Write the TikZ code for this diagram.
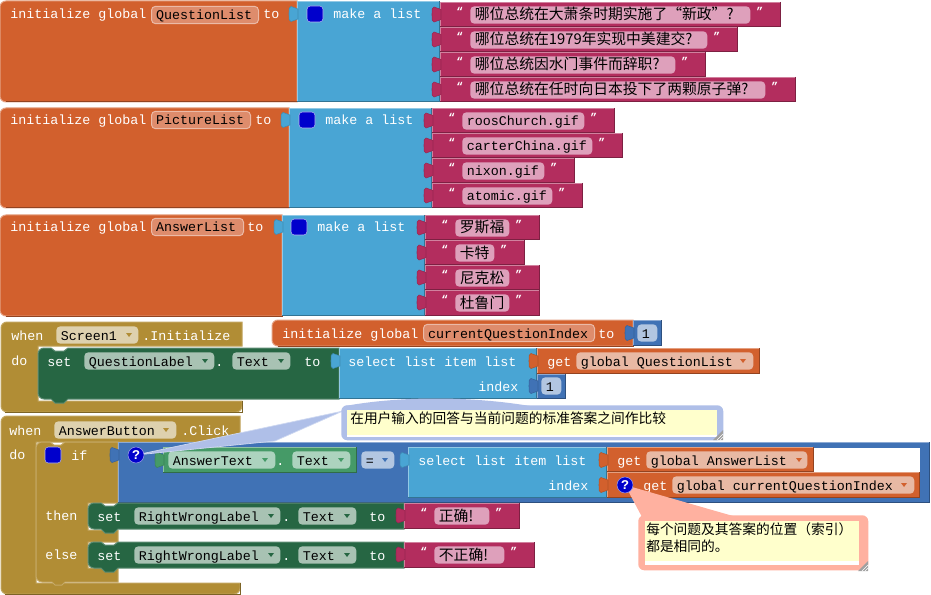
\documentclass[tikz,border=0pt]{standalone}
\usepackage{fontspec}
\setmainfont{Liberation Mono}
\newfontfamily\cjk{Noto Sans CJK SC}
\newcommand{\blockfont}{\fontsize{10}{12}\selectfont}
\newcommand{\cjkstr}{\cjk\fontsize{11.1}{13}\selectfont}
\newcommand{\cjknote}{\cjk\fontsize{10.3}{12.75}\selectfont}
\definecolor{OrangeBlk}{RGB}{210, 96, 45}
\definecolor{OrangeName}{RGB}{222, 140, 108}
\definecolor{OrangeField}{RGB}{232, 185, 164}
\definecolor{ListBlue}{RGB}{73, 165, 212}
\definecolor{PinkBlk}{RGB}{179, 45, 94}
\definecolor{PinkField}{RGB}{222, 160, 187}
\definecolor{GoldBlk}{RGB}{177, 141, 53}
\definecolor{GoldField}{RGB}{222, 209, 174}
\definecolor{GreenDark}{RGB}{38, 102, 67}
\definecolor{GreenField}{RGB}{168, 194, 179}
\definecolor{GreenMid}{RGB}{69, 154, 103}
\definecolor{GreenPale}{RGB}{172, 211, 190}
\definecolor{MathBlue}{RGB}{64, 114, 181}
\definecolor{MathField}{RGB}{178, 198, 225}
\definecolor{IconBlue}{RGB}{0, 0, 204}
\definecolor{NoteBlue}{RGB}{175, 191, 232}
\definecolor{NoteRed}{RGB}{255, 177, 160}
\definecolor{NoteYellow}{RGB}{255, 255, 204}
\definecolor{HandleGray}{RGB}{160, 160, 160}
\tikzset{
    lbl/.style={anchor=west, inner sep=0pt, text=white, font=\blockfont, text height=7.5pt, text depth=0pt},
    fieldbox/.style 2 args={anchor=west, fill=#1, rounded corners=3pt, inner xsep=3.5pt, inner ysep=0pt, align=left,
        minimum height=13pt, text width=(#2)*0.75pt-7pt, text=black, font=\blockfont, text height=7.5pt, text depth=0pt,
        execute at begin node={\spaceskip=6pt\relax}},
    namebox/.style 2 args={fieldbox={#1}{#2}, draw=#1!60!white, line width=0.75pt},
    mutbox/.style={fill=IconBlue, draw=white!70!IconBlue, line width=0.4pt, rounded corners=2.5pt, minimum size=12pt, inner sep=0pt},
    qicon/.style={circle, fill=IconBlue, draw=white!60!IconBlue, line width=0.4pt, minimum size=12pt, inner sep=0pt,
        text=white, font=\blockfont\bfseries},
    notebox/.style={anchor=north west, fill=#1, rounded corners=4.5pt, inner sep=0pt},
    noteinner/.style={anchor=north west, fill=#1, inner sep=0pt},
    notetext/.style={anchor=north west, inner sep=0pt, align=left, font=\cjknote},
    quotemark/.style={anchor=west, inner sep=0pt, text=white, font=\fontsize{8.5}{10}\selectfont\bfseries}
}
% left cap block with rounded corners on the left
\newcommand{\hatblock}[5]{
    \filldraw[fill=#5, draw=#5!60!white, line width=0.75pt, rounded corners=4.5pt] (#3,#2) -- (#1,#2) -- (#1,#4) [sharp corners] -- (#3,#4) -- cycle;
    \draw[#5!70!black, line width=0.75pt] (#1+6,#4) -- (#3,#4) -- (#3,#2);
}
\newcommand{\blockrect}[5]{
    \fill[#5] (#1,#2) rectangle (#3,#4);
    \draw[#5!60!white, line width=0.75pt] (#1+.5,#4) -- (#1+.5,#2+.5) -- (#3,#2+.5);
    \draw[#5!70!black, line width=0.75pt] (#3-.5,#2) -- (#3-.5,#4-.5) -- (#1,#4-.5);
}
% jigsaw tab on the left side of a block
\newcommand{\lefttab}[3]{
    \filldraw[fill=#3, draw=#3!85!black, line width=0.4pt, shift={(#1,#2)}] (1,-5) .. controls (-2,-5) and (-3,-7.5) .. (-6,-7.5)
        .. controls (-8,-7.5) and (-8,-5) .. (-8,0) .. controls (-8,5) and (-8,7.5) .. (-6,7.5)
        .. controls (-3,7.5) and (-2,5) .. (1,5) -- cycle;
}
% statement block with notch on top and bump below
\newcommand{\stackblock}[5]{
    \filldraw[fill=#5, draw=#5!75!white, line width=0.75pt, rounded corners=4.5pt] (#3,#2) [sharp corners] -- (#1+30,#2) -- (#1+26,#2+3) -- (#1+17,#2+3) -- (#1+13,#2)
        [rounded corners=4.5pt] -- (#1,#2) -- (#1,#4) [sharp corners] -- (#1+13,#4) -- (#1+17,#4+4) -- (#1+26,#4+4) -- (#1+30,#4) -- (#3,#4) -- cycle;
}
% event block: head, arm on the left, foot
\newcommand{\whenblock}[6]{
    \filldraw[fill=GoldBlk, draw=GoldBlk!80!white, line width=0.75pt, rounded corners=4.5pt] (#6,#1) -- (1,#1) -- (1,#5) -- (#6,#5) [sharp corners] -- (#6,#4) -- (#3,#4) -- (#3,#2) -- (#6,#2) -- cycle;
    \draw[GoldBlk!70!black, line width=0.75pt] (5,#5) -- (#6,#5) -- (#6,#4);
}
\newcommand{\ddtri}[3]{
    \fill[#3] (#1-3,#2-2) -- (#1+3,#2-2) -- (#1,#2+2) -- cycle;
}
% text block: name, x1, y1, y2, x2, field end, text
\newcommand{\strblock}[7]{
    \blockrect{#2}{#3}{#5}{#4}{PinkBlk}
    \lefttab{#2}{#3+12.5}{PinkBlk}
    \node (#1open) [quotemark] at (#2+16,#3+9) {“};
    \node (#1) [fieldbox={PinkField}{#6-#2-30}] at (#2+30,#3+13) {#7};
    \node (#1close) [quotemark] at (#6+6,#3+9) {”};
}
\newcommand{\handle}[2]{
    \fill[HandleGray] (#1,#2-10) -- (#1,#2) -- (#1-10,#2) -- cycle;
    \draw[white, line width=0.5pt] (#1,#2-6) -- (#1-6,#2);
    \draw[white, line width=0.5pt] (#1,#2-3) -- (#1-3,#2);
}
\newcommand{\cjkopen}{\makebox[1em][r]{“}}
\newcommand{\cjkclose}{\makebox[1em][l]{”}}

\begin{document}
\begin{tikzpicture}[x=0.75pt, y=-0.75pt]
    \useasboundingbox (0,0) rectangle (931,595);

    % QuestionList
    \hatblock{0}{1}{297}{102}{OrangeBlk}
    \node (qlinit) [lbl] at (10,14) {initialize global};
    \node (qlname) [namebox={OrangeName}{107}] at (151,15) {QuestionList};
    \node (qlto) [lbl] at (263,14) {to};
    \blockrect{297}{1}{440}{102}{ListBlue}
    \lefttab{297}{14}{ListBlue}
    \node (qlmut) [mutbox] at (315,14) {};
    \node (qlmake) [lbl] at (333,14) {make a list};
    \strblock{qa}{440}{2}{27}{781}{750}{\cjkstr 哪位总统在大萧条时期实施了\cjkopen 新政\cjkclose ?}
    \strblock{qb}{440}{27}{52}{738}{707}{\cjkstr 哪位总统在1979年实现中美建交?}
    \strblock{qc}{440}{52}{77}{706}{675}{\cjkstr 哪位总统因水门事件而辞职?}
    \strblock{qd}{440}{77}{102}{796}{765}{\cjkstr 哪位总统在任时向日本投下了两颗原子弹?}

    % PictureList
    \hatblock{0}{108}{289}{208}{OrangeBlk}
    \node (plinit) [lbl] at (10,120) {initialize global};
    \node (plname) [namebox={OrangeName}{99}] at (151,120) {PictureList};
    \node (plto) [lbl] at (255,120) {to};
    \blockrect{289}{108}{432}{208}{ListBlue}
    \lefttab{289}{120}{ListBlue}
    \node (plmut) [mutbox] at (307,120) {};
    \node (plmake) [lbl] at (325,120) {make a list};
    \strblock{pa}{432}{108}{133}{615}{584}{roosChurch.gif}
    \strblock{pb}{432}{133}{158}{623}{592}{carterChina.gif}
    \strblock{pc}{432}{158}{183}{575}{544}{nixon.gif}
    \strblock{pd}{432}{183}{208}{583}{552}{atomic.gif}

    % AnswerList
    \hatblock{0}{215}{282}{316}{OrangeBlk}
    \node (alinit) [lbl] at (10,227) {initialize global};
    \node (alname) [namebox={OrangeName}{92}] at (151,227) {AnswerList};
    \node (alto) [lbl] at (247,227) {to};
    \blockrect{282}{215}{425}{316}{ListBlue}
    \lefttab{282}{227}{ListBlue}
    \node (almut) [mutbox] at (299,227) {};
    \node (almake) [lbl] at (317,227) {make a list};
    \strblock{aa}{425}{215}{240}{540}{509}{\cjkstr 罗斯福}
    \strblock{ab}{425}{240}{265}{525}{494}{\cjkstr 卡特}
    \strblock{ac}{425}{265}{290}{540}{509}{\cjkstr 尼克松}
    \strblock{ad}{425}{290}{316}{540}{509}{\cjkstr 杜鲁门}

    % currentQuestionIndex
    \hatblock{272}{320}{633}{346}{OrangeBlk}
    \node (cqinit) [lbl] at (282,333) {initialize global};
    \node (cqname) [namebox={OrangeName}{171}] at (423,333) {currentQuestionIndex};
    \node (cqto) [lbl] at (598,333) {to};
    \blockrect{633}{320}{662}{346}{MathBlue}
    \lefttab{633}{333}{MathBlue}
    \node (cqval) [fieldbox={MathField}{20}] at (637,333) {1};

    % Screen1.Initialize
    \whenblock{322}{346}{38}{401}{412}{242}
    \node (swhen) [lbl] at (11,335) {when};
    \node (sname) [fieldbox={GoldField}{82}] at (56,335) {Screen1};
    \ddtri{129}{335}{GoldBlk}
    \node (sinit) [lbl] at (142,335) {.Initialize};
    \node (sdo) [lbl] at (11,360) {do};
    \stackblock{38}{348}{339}{399}{GreenDark}
    \node (sset) [lbl] at (47,361) {set};
    \node (slabel) [fieldbox={GreenField}{130}] at (84,361) {QuestionLabel};
    \ddtri{205}{361}{GreenDark}
    \node (sdot) [lbl] at (215,361) {.};
    \node (stext) [fieldbox={GreenField}{58}] at (232,361) {Text};
    \ddtri{281}{361}{GreenDark}
    \node (sto) [lbl] at (304,361) {to};
    \blockrect{339}{348}{537}{399}{ListBlue}
    \lefttab{339}{361}{ListBlue}
    \node (ssel) [lbl] at (348,361) {select list item list};
    \node (sidx) [lbl] at (478,386) {index};
    \blockrect{537}{348}{760}{374}{OrangeBlk}
    \lefttab{537}{361}{OrangeBlk}
    \node (sget) [lbl] at (547,361) {get};
    \node (sglob) [fieldbox={OrangeField}{177}] at (576,361) {global QuestionList};
    \ddtri{743}{361}{OrangeBlk}
    \blockrect{537}{374}{566}{399}{MathBlue}
    \lefttab{537}{386}{MathBlue}
    \node (sone) [fieldbox={MathField}{20}] at (541,386) {1};

    % AnswerButton.Click
    \whenblock{416}{442}{36}{583}{594}{240}
    \node (awhen) [lbl] at (9,430) {when};
    \node (aname) [fieldbox={GoldField}{122}] at (54,430) {AnswerButton};
    \ddtri{166}{430}{GoldBlk}
    \node (aclick) [lbl] at (181,430) {.Click};
    \node (ado) [lbl] at (9,454) {do};
    % if block
    \filldraw[fill=GoldBlk, draw=GoldBlk!75!white, line width=0.75pt, rounded corners=4.5pt] (118,442) [sharp corners] -- (65,442) -- (61,445) -- (54,445) -- (50,442)
        [rounded corners=4.5pt] -- (36,442) -- (36,582) [sharp corners] -- (52,582) -- (55,585) -- (62,585) -- (65,582) -- (118,582) -- (118,568) -- (88,568) -- (88,542) -- (118,542) -- (118,530) -- (88,530) -- (88,503) -- (118,503) -- cycle;
    \node (aifmut) [mutbox] at (53,455) {};
    \node (aif) [lbl] at (71,455) {if};
    \node (athen) [lbl] at (45,515) {then};
    \node (aelse) [lbl] at (45,554) {else};
    \blockrect{118}{442}{930}{503}{MathBlue}
    \lefttab{118}{455}{MathBlue}
    \fill[white] (814,448) rectangle (920,472);
    \blockrect{163}{447}{357}{473}{GreenMid}
    \lefttab{163}{460}{GreenMid}
    \node (atxt) [fieldbox={GreenPale}{107}] at (168,460) {AnswerText};
    \ddtri{265}{460}{GreenMid}
    \node (adot) [lbl] at (276,460) {.};
    \node (atxtp) [fieldbox={GreenPale}{58}] at (292,460) {Text};
    \ddtri{341}{460}{GreenMid}
    \node (aeq) [fieldbox={MathField}{33}] at (361,460) {=};
    \ddtri{385}{460}{MathBlue}
    \blockrect{408}{447}{607}{498}{ListBlue}
    \lefttab{408}{460}{ListBlue}
    \node (asel) [lbl] at (418,460) {select list item list};
    \node (aidx) [lbl] at (548,485) {index};
    \blockrect{607}{447}{814}{472}{OrangeBlk}
    \lefttab{607}{460}{OrangeBlk}
    \node (aget) [lbl] at (617,460) {get};
    \node (aglob) [fieldbox={OrangeField}{161}] at (646,460) {global AnswerList};
    \ddtri{799}{460}{OrangeBlk}
    \blockrect{607}{472}{920}{498}{OrangeBlk}
    \lefttab{607}{485}{OrangeBlk}
    \node (bget) [lbl] at (643,485) {get};
    \node (bglob) [fieldbox={OrangeField}{242}] at (672,485) {global currentQuestionIndex};
    \ddtri{904}{485}{OrangeBlk}

    % then / else
    \stackblock{88}{503}{404}{529}{GreenDark}
    \node (tset) [lbl] at (97,516) {set};
    \node (tlabel) [fieldbox={GreenField}{146}] at (134,516) {RightWrongLabel};
    \ddtri{271}{516}{GreenDark}
    \node (tdot) [lbl] at (282,516) {.};
    \node (ttext) [fieldbox={GreenField}{58}] at (298,516) {Text};
    \ddtri{347}{516}{GreenDark}
    \node (tto) [lbl] at (369,516) {to};
    \strblock{tval}{404}{503}{529}{520}{489}{\cjkstr 正确!}
    \stackblock{88}{542}{404}{568}{GreenDark}
    \node (eset) [lbl] at (97,555) {set};
    \node (elabel) [fieldbox={GreenField}{146}] at (134,555) {RightWrongLabel};
    \ddtri{271}{555}{GreenDark}
    \node (edot) [lbl] at (282,555) {.};
    \node (etext) [fieldbox={GreenField}{58}] at (298,555) {Text};
    \ddtri{347}{555}{GreenDark}
    \node (eto) [lbl] at (369,555) {to};
    \strblock{eval}{404}{542}{568}{535}{504}{\cjkstr 不正确!}

    % comment on the equality test
    \coordinate (qpointA) at (136,455);
    \coordinate (noteApa) at (343,411);
    \coordinate (noteApb) at (275,441);
    \filldraw[fill=NoteBlue, draw=white!40!NoteBlue, line width=0.5pt] (qpointA) -- (noteApa) -- (noteApb) -- cycle;
    \fill[NoteBlue] (345,406) .. controls (400,396) and (470,396) .. (530,406) -- cycle;
    \node (noteA) [notebox=NoteBlue, minimum width=286.5pt, minimum height=26.25pt] at (341,405) {};
    \node (noteAback) [noteinner=white, minimum width=277.5pt, minimum height=20pt] at (347,410) {};
    \node (noteAin) [noteinner=NoteYellow, minimum width=277.5pt, minimum height=18.75pt] at (347,410) {};
    \node (noteAtxt) [notetext] at (350,412) {在用户输入的回答与当前问题的标准答案之间作比较};
    \handle{723}{440}
    \node (qmarkA) [qicon] at (qpointA) {?};

    % comment on the index
    \coordinate (qpointB) at (625,485);
    \coordinate (noteBpa) at (642,517);
    \coordinate (noteBpb) at (733,516);
    \fill[NoteRed] (qpointB) -- (noteBpa) -- (noteBpb) -- cycle;
    \node (noteB) [notebox=NoteRed, minimum width=172.5pt, minimum height=41.25pt] at (638,515) {};
    \node (noteBback) [noteinner=white, minimum width=160.5pt, minimum height=33pt] at (645,521) {};
    \node (noteBin) [noteinner=NoteYellow, minimum width=160.5pt, minimum height=30pt] at (645,521) {};
    \node (noteBtxt) [notetext] at (646,522) {每个问题及其答案的位置^^^^ff08索引^^^^ff09\\都是相同的。};
    \handle{868}{571}
    \node (qmarkB) [qicon] at (qpointB) {?};
\end{tikzpicture}
\end{document}
